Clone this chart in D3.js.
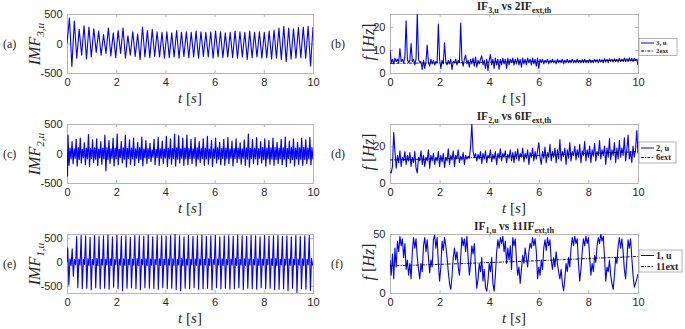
<!DOCTYPE html>
<html>
<head>
<meta charset="utf-8">
<script src="https://cdn.jsdelivr.net/npm/d3@7"></script>
<style>
  body { margin: 0; background: #fff; }
  .tick text { font-family: "Liberation Sans", Arial, sans-serif; font-size: 11px; fill: #262626; }
</style>
</head>
<body>
<div id="chart"></div>
<script>
// ---- data ----
var timeTicks = [0, 2, 4, 6, 8, 10];

// IMF3: alternating extrema, about 0.1 s apart
var imf3 = [0, 430, -390, 380, -250, 240, -200, 300, -260, 280, -230,
  250, -150, 210, -200, 150, -170, 260, -210, 180, -240,
  220, -170, 260, -250, 130, -200, 200, -220, 160, -270,
  280, -230, 220, -240, 240, -220, 200, -230, 190, -250,
  200, -240, 180, -230, 220, -250, 190, -220, 200, -240,
  190, -230, 210, -250, 200, -220, 190, -230, 200, -250,
  210, -230, 200, -240, 180, -230, 190, -240, 210, -250,
  200, -230, 190, -270, 210, -240, 190, -230, 200, -250,
  190, -240, 210, -260, 230, -250, 260, -270, 290, -310,
  260, -260, 250, -250, 270, -240, 280, -250, 290, -380, 280];

// IMF2: spike tops, troughs and in-between band, one entry per spike
var imf2Start = -380;
var imf2Up = [310, 200, 240, 260, 180, 320, 230, 250, 200, 310,
  220, 260, 330, 200, 310, 230, 260, 190, 280, 220,
  170, 240, 270, 210, 290, 250, 330, 300, 260, 310,
  240, 270, 200, 250, 290, 220, 260, 190, 240, 270,
  210, 250, 180, 230, 330, 240, 270, 200, 250, 220,
  260, 190, 240, 280, 210, 250, 190, 260, 230, 270];
var imf2Down = [-200, -170, -210, -160, -190, -220, -150, -200, -180, -290,
  -170, -210, -190, -160, -230, -180, -200, -150, -210, -170,
  -140, -190, -200, -170, -220, -180, -210, -160, -200, -190,
  -170, -210, -150, -200, -180, -220, -160, -190, -200, -170,
  -210, -150, -180, -200, -230, -170, -190, -160, -210, -180,
  -200, -170, -190, -220, -160, -210, -180, -200, -170, -190];
var imf2Band = [90, 80, 100, 70, 90, 85, 95, 75, 90, 100,
  80, 90, 70, 95, 85, 90, 80, 100, 75, 85,
  60, 70, 80, 75, 90, 85, 95, 80, 90, 85,
  80, 95, 85, 90, 75, 80, 95, 85, 90, 80,
  85, 90, 80, 95, 85, 90, 80, 100, 90, 95,
  100, 90, 95, 85, 100, 90, 95, 100, 90, 100];

// IMF1: burst tops, burst bottoms and band, one entry per burst
var imf1Up = [300, 280, 540, 560, 550, 520, 560, 540, 550, 570,
  530, 560, 540, 550, 520, 560, 550, 540, 570, 530,
  560, 550, 540, 560, 580, 550, 530, 560, 540, 550,
  570, 540, 550, 560, 530, 550, 560, 540, 570, 550,
  540, 560, 550, 530, 560, 540, 550, 560, 540, 550,
  530, 560, 540, 550, 560];
var imf1Down = [-480, -300, -540, -560, -550, -580, -540, -560, -550, -570,
  -530, -560, -600, -550, -540, -560, -580, -540, -550, -560,
  -570, -540, -560, -550, -580, -600, -550, -560, -540, -570,
  -560, -550, -580, -540, -560, -550, -570, -560, -540, -580,
  -550, -560, -570, -540, -560, -550, -580, -570, -560, -600,
  -550, -640, -560, -570, -590];
var imf1Band = [70, 60, 65, 55, 70, 60, 75, 65, 60, 70,
  55, 65, 70, 60, 65, 75, 60, 70, 65, 55,
  70, 60, 65, 70, 60, 75, 65, 60, 70, 65,
  60, 70, 55, 65, 70, 60, 65, 75, 60, 70,
  65, 60, 70, 65, 60, 70, 75, 60, 65, 70,
  60, 65, 70, 60, 75];

// IF3 in Hz, every 0.05 s
var if3 = [10, 4.5, 6, 4, 6.5, 5, 6, 4.5, 10.7, 5, 6, 4.5, 7, 22.7, 6, 4.5, 5.5, 12.8, 5, 6,
  3.5, 6, 26, 6, 4.5, 5, 1.5, 5.5, 2, 5, 12.2, 4.5, 3, 6, 4, 5.5, 3.5, 5, 4.5, 21.3,
  6, 2, 5.5, 4, 13.2, 5, 3.5, 5.5, 4, 6, 1.5, 5, 4.5, 6, 3.5, 5.5, 4.5, 21.8, 5.5, 3,
  6, 7.8, 4, 5.5, 2.5, 6, 4, 6.5, 3, 7, 2.5, 5.5, 4, 6, 7.5, 3.5, 5.5, 2, 6, 1,
  5.5, 8, 3.5, 6, 2, 6.5, 3.5, 6, 1.5, 6, 3.5, 6.5, 4, 6, 2, 6.5, 3.5, 6, 4.5, 6.5,
  3.5, 6, 4, 6.5, 3.5, 6, 2.5, 6.5, 4, 6, 3.5, 6.5, 4.5, 6, 3.5, 6.5, 4, 6, 3, 6.5,
  2, 6, 4.5, 6, 4, 5.5, 4.5, 6, 4, 5.5, 4.5, 6, 4.5, 5.5, 4, 6, 4.5, 5.5, 4.5, 6,
  4, 5.5, 4.5, 6, 4.5, 5.5, 4.5, 6, 4.5, 5.5, 4.5, 6, 4.5, 5.5, 4.5, 5.8, 4.5, 6, 4.5, 5.5,
  4.5, 6, 4.5, 5.5, 4.5, 6, 4.8, 5.8, 4.5, 6, 4.8, 5.8, 4.5, 6.2, 4.8, 6, 4.5, 6.2, 5, 6,
  4.8, 6.2, 5, 6, 4.8, 6.3, 5, 6, 5, 6.5, 5, 6.2, 5, 6.5, 5.2, 6.3, 5, 6.5, 5.5, 6, 3.5];

// IF2 in Hz, every 0.05 s
var if2 = [6, 5.5, 9, 27.5, 17, 8, 15, 11, 17.5, 9, 14, 12, 17, 10, 15, 12, 16.5, 9, 14, 11,
  17, 8, 5.5, 14, 12, 17.5, 10, 15, 9, 14, 12, 18, 8, 15, 12, 16, 10, 14, 12, 17,
  9, 15, 11.5, 16, 8.5, 14, 12, 18.5, 10, 15, 12.5, 17.5, 9, 15, 13, 18, 11, 14.5, 12.5, 16.5,
  10, 15, 13, 14.5, 13.5, 20, 32, 17, 14, 16, 12, 15.5, 13, 17, 10.5, 16, 13, 17.5, 11, 15,
  13.5, 18, 11.5, 15.5, 13, 17, 10, 16, 13.5, 18.5, 12, 16, 14, 17.5, 11, 15.5, 13.5, 18, 12, 16.5,
  11, 17, 13, 18.5, 12, 16, 14, 19, 11.5, 16, 13.5, 18, 10, 16.5, 14, 19, 12, 17, 13, 17.5,
  22, 14, 10, 17, 13.5, 19.5, 11, 16.5, 14, 21, 12, 17, 14, 19, 11, 18, 13, 23.5, 12, 17,
  14.5, 19, 10, 18, 13.5, 22, 12, 17, 15, 20, 12.5, 18, 14, 21, 11, 17.5, 15, 22.5, 12, 18,
  14, 20, 11, 18, 14.5, 21.5, 12, 17, 15, 23, 13, 18, 15, 20, 10, 19, 14, 24, 12.5, 18,
  15, 22, 11, 19, 13, 23, 14, 19, 15, 24.5, 12, 18, 26, 13, 17, 11, 20, 14, 18, 28.5, 16];

// IF1 in Hz, every 0.05 s
var if1 = [28, 15, 33, 12, 38, 22, 44, 35, 48, 40, 46, 30, 42, 20, 28, 15, 25, 12, 35, 47,
  38, 46, 30, 20, 12, 25, 18, 40, 47, 35, 45, 30, 17, 28, 22, 45, 49, 38, 47, 25,
  10, 22, 44, 36, 47, 40, 30, 18, 8, 3, 14, 30, 38, 28, 35, 22, 15, 30, 47, 40,
  46, 35, 48, 30, 15, 25, 40, 33, 42, 20, 4, 12, 25, 18, 30, 10, 20, 5, 1.5, 10,
  25, 18, 30, 8, 1.5, 15, 35, 45, 38, 47, 42, 48, 35, 44, 25, 38, 28, 40, 20, 47,
  40, 46, 28, 15, 22, 8, 20, 32, 25, 38, 30, 22, 35, 42, 38, 47, 40, 46, 35, 12,
  22, 15, 28, 20, 38, 45, 36, 47, 40, 45, 28, 20, 30, 22, 35, 25, 18, 12, 20, 8,
  2, 12, 25, 18, 30, 22, 38, 47, 40, 48, 42, 46, 25, 10, 20, 35, 46, 40, 48, 42,
  47, 30, 15, 25, 18, 32, 26, 40, 47, 42, 50, 44, 48, 30, 10, 22, 18, 28, 15, 8,
  3, 15, 30, 25, 40, 47, 38, 46, 35, 20, 12, 28, 45, 38, 46, 30, 15, 5, 8, 12, 16];

// multiples of the external frequency, every 1 s
var ext2 = [4.2, 4.3, 4.4, 4.5, 4.7, 4.8, 5.0, 5.1, 5.3, 5.5, 5.6];
var ext6 = [12.5, 12.8, 13.2, 13.6, 14.0, 14.5, 15.0, 15.5, 16.0, 16.5, 17.0];
var ext11 = [23, 23.6, 24.3, 25, 25.8, 26.6, 27.4, 28.3, 29.2, 30.1, 31];

// ---- helpers ----
var svg = d3.select("#chart").append("svg").attr("width", 685).attr("height", 329);
var serif = "'Liberation Serif', 'Times New Roman', serif";
var clipCount = 0;

function uniform(vals) {
  return vals.map(function (v, i) { return [i * 10 / (vals.length - 1), v]; });
}

// one burst/spike per entry, split into four samples
function bursts(up, down, band, t0) {
  var n = up.length, step = 10 / n / 4, pts = [];
  for (var k = 0; k < n; k++) {
    var base = t0 + k * 10 / n;
    pts.push([base, up[k]], [base + step, down[k]], [base + 2 * step, band[k]], [base + 3 * step, -band[k]]);
  }
  return pts;
}

function rich(sel, parts, size) {
  var shift = 0;
  parts.forEach(function (p) {
    var target = p.sub ? size * 0.28 : 0;
    var ts = sel.append("tspan").attr("dy", target - shift).text(p.t);
    shift = target;
    ts.attr("font-size", p.sub ? size * 0.7 : size);
    if (p.i) ts.attr("font-style", "italic");
  });
}

function panel(xr, yr, yDomain, yTicks) {
  var x = d3.scaleLinear().domain([0, 10]).range(xr);
  var y = d3.scaleLinear().domain(yDomain).range([yr[1], yr[0]]);
  var g = svg.append("g");
  var fmt = function (d) { return String(d); };

  g.append("g").attr("transform", "translate(0," + yr[1] + ")")
    .call(d3.axisBottom(x).tickValues(timeTicks).tickSizeInner(-3).tickSizeOuter(0).tickPadding(5).tickFormat(fmt));
  g.append("g").attr("transform", "translate(0," + yr[0] + ")")
    .call(d3.axisTop(x).tickValues(timeTicks).tickSizeInner(-3).tickSizeOuter(0).tickFormat(""));
  g.append("g").attr("transform", "translate(" + xr[0] + ",0)")
    .call(d3.axisLeft(y).tickValues(yTicks).tickSizeInner(-3).tickSizeOuter(0).tickPadding(4.5).tickFormat(fmt));
  g.append("g").attr("transform", "translate(" + xr[1] + ",0)")
    .call(d3.axisRight(y).tickValues(yTicks).tickSizeInner(-3).tickSizeOuter(0).tickFormat(""));
  g.selectAll(".domain, .tick line").attr("stroke", "#b4b4b4");

  var id = "clip" + (clipCount++);
  svg.append("clipPath").attr("id", id).append("rect")
    .attr("x", xr[0]).attr("y", yr[0]).attr("width", xr[1] - xr[0]).attr("height", yr[1] - yr[0]);
  var plot = svg.append("g").attr("clip-path", "url(#" + id + ")");

  // x label
  var lab = svg.append("text").attr("x", (xr[0] + xr[1]) / 2).attr("y", yr[1] + 30)
    .attr("text-anchor", "middle").attr("font-family", serif).attr("fill", "#262626");
  rich(lab, [{ t: "t", i: true }, { t: " [" }, { t: "s", i: true }, { t: "]" }], 15);

  return { x: x, y: y, plot: plot };
}

function drawLine(p, pts, color, width, dash) {
  var line = d3.line().x(function (d) { return p.x(d[0]); }).y(function (d) { return p.y(d[1]); });
  var path = p.plot.append("path").datum(pts).attr("d", line)
    .attr("fill", "none").attr("stroke", color).attr("stroke-width", width).attr("stroke-linejoin", "round");
  if (dash) path.attr("stroke-dasharray", dash);
}

function yLabel(x, y, parts) {
  var t = svg.append("text").attr("transform", "translate(" + x + "," + y + ") rotate(-90)")
    .attr("text-anchor", "middle").attr("font-family", serif).attr("fill", "#262626");
  rich(t, parts, 16);
}

function tag(x, y, s) {
  svg.append("text").attr("x", x).attr("y", y).attr("font-family", serif).attr("font-size", 12)
    .attr("fill", "#262626").text(s);
}

function title(x, y, parts) {
  var t = svg.append("text").attr("x", x).attr("y", y).attr("text-anchor", "middle")
    .attr("font-family", serif).attr("font-weight", "bold").attr("fill", "#262626");
  rich(t, parts, 11.5);
}

function legend(box, rows, size, name1, name2) {
  svg.append("rect").attr("x", box[0]).attr("y", box[1]).attr("width", box[2]).attr("height", box[3])
    .attr("fill", "#fff").attr("stroke", "#a0a0a0").attr("stroke-width", 0.8);
  [[name1, "#0000ff", null], [name2, "#000", "3,1.2,1,1.2"]].forEach(function (r, i) {
    var yy = rows[i];
    var l = svg.append("line").attr("x1", box[0] + 2).attr("x2", box[0] + 15).attr("y1", yy).attr("y2", yy)
      .attr("stroke", r[1]).attr("stroke-width", 1);
    if (r[2]) l.attr("stroke-dasharray", r[2]);
    var t = svg.append("text").attr("x", box[0] + 17).attr("y", yy).attr("dy", "0.33em")
      .attr("font-family", serif).attr("font-weight", "bold").attr("font-size", size).attr("fill", "#262626");
    t.text(r[0]);
  });
}

var L = [67, 313], R = [390, 638];
var rowsY = [[14, 73], [124, 183], [234, 293]];
var blue = "#0000ff";

// (a) IMF3
var pa = panel(L, rowsY[0], [-500, 500], [-500, 0, 500]);
drawLine(pa, uniform(imf3), blue, 1.1);
yLabel(40, 44, [{ t: "IMF", i: true }, { t: "3,u", sub: true, i: true }]);
tag(3, 48, "(a)");

// (c) IMF2
var pc = panel(L, rowsY[1], [-500, 500], [-500, 0, 500]);
drawLine(pc, [[0, 0], [0.02, imf2Start]].concat(bursts(imf2Up, imf2Down, imf2Band, 0.04)), blue, 1.2);
yLabel(40, 154, [{ t: "IMF", i: true }, { t: "2,u", sub: true, i: true }]);
tag(3, 158, "(c)");

// (e) IMF1
var pe = panel(L, rowsY[2], [-650, 590], [-500, 0, 500]);
drawLine(pe, [[0, 0]].concat(bursts(imf1Up, imf1Down, imf1Band, 0.03)), blue, 1.1);
yLabel(40, 264, [{ t: "IMF", i: true }, { t: "1,u", sub: true, i: true }]);
tag(3, 268, "(e)");

// (b) IF3 vs 2 IFext
var pb = panel(R, rowsY[0], [0, 25.7], [0, 10, 20]);
drawLine(pb, uniform(if3), blue, 1.1);
drawLine(pb, uniform(ext2), "#000", 0.9, "3,1.2,1,1.2");
yLabel(374, 42, [{ t: "f", i: true }, { t: " [" }, { t: "Hz", i: true }, { t: "]" }]);
tag(331, 48, "(b)");
title(514, 10, [{ t: "IF" }, { t: "3,u", sub: true }, { t: " vs 2IF" }, { t: "ext,th", sub: true }]);
legend([639, 38.5, 38, 17], [43, 51], 6.8, "3, u", "2ext");

// (d) IF2 vs 6 IFext
var pd = panel(R, rowsY[1], [0, 32], [0, 20]);
drawLine(pd, uniform(if2), blue, 1.1);
drawLine(pd, uniform(ext6), "#000", 0.9, "3,1.2,1,1.2");
yLabel(374, 152, [{ t: "f", i: true }, { t: " [" }, { t: "Hz", i: true }, { t: "]" }]);
tag(331, 158, "(d)");
title(514, 120, [{ t: "IF" }, { t: "2,u", sub: true }, { t: " vs 6IF" }, { t: "ext,th", sub: true }]);
legend([639, 142, 37, 21], [148, 157.5], 8.5, "2, u", "6ext");

// (f) IF1 vs 11 IFext
var pf = panel(R, rowsY[2], [0, 50], [0, 50]);
drawLine(pf, uniform(if1), blue, 1.1);
drawLine(pf, uniform(ext11), "#000", 0.9, "3,1.2,1,1.2");
yLabel(374, 262, [{ t: "f", i: true }, { t: " [" }, { t: "Hz", i: true }, { t: "]" }]);
tag(331, 268, "(f)");
title(514, 230, [{ t: "IF" }, { t: "1,u", sub: true }, { t: " vs 11IF" }, { t: "ext,th", sub: true }]);
legend([639, 250, 43, 22], [255.5, 266.5], 10, "1, u", "11ext");
</script>
</body>
</html>
